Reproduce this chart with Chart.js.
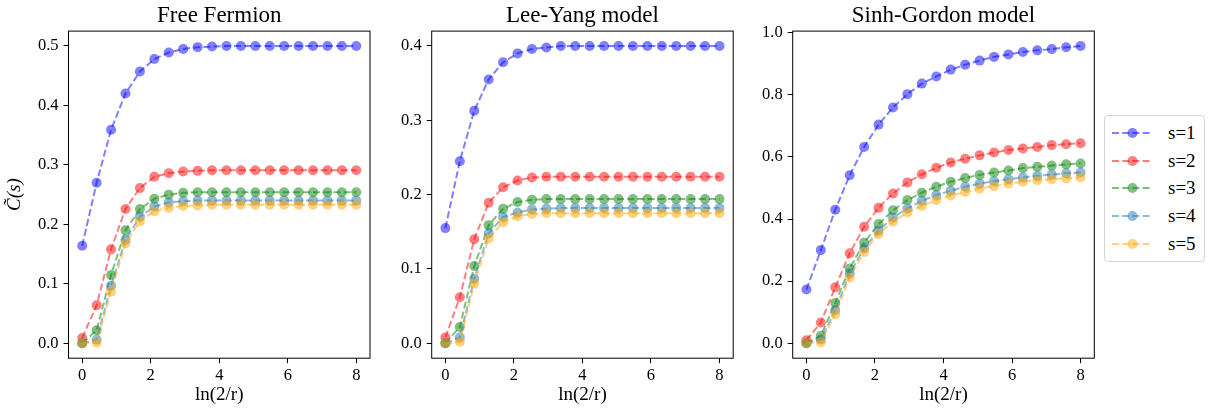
<!DOCTYPE html>
<html>
<head>
<meta charset="utf-8">
<script src="https://cdn.jsdelivr.net/npm/chart.js@4.4.1/dist/chart.umd.min.js"></script>
<style>
  body { margin: 0; background: #fff; width: 1215px; height: 412px; position: relative; overflow: hidden;
         font-family: 'Liberation Serif', 'DejaVu Serif', serif; }
  canvas { position: absolute; top: 0; }
  #legend { position: absolute; left: 1104px; top: 115px; width: 99px; height: 142px;
            border: 1px solid #d4d4d4; border-radius: 4px; padding-top: 3px; box-sizing: content-box; }
  .row { height: 27.8px; display: flex; align-items: center; }
  .row svg { margin-left: 7px; }
  .row span { margin-left: 16px; font-size: 19px; color: #000; }
</style>
</head>
<body>
<canvas id="c1" style="left:0px" width="380" height="412"></canvas>
<canvas id="c2" style="left:380px" width="363" height="412"></canvas>
<canvas id="c3" style="left:743px" width="361" height="412"></canvas>
<div id="legend"></div>
<script>
// x grid: ln(2/r) sample points
const xVals = [0, 0.421, 0.842, 1.263, 1.684, 2.105, 2.526, 2.947, 3.368, 3.789,
               4.211, 4.632, 5.053, 5.474, 5.895, 6.316, 6.737, 7.158, 7.579, 8.0];
const xTicks = [0, 2, 4, 6, 8];

const seriesLabels = ['s=1', 's=2', 's=3', 's=4', 's=5'];
const seriesColors = ['rgba(0,0,255,0.5)', 'rgba(255,0,0,0.5)', 'rgba(0,128,0,0.5)',
                      'rgba(31,119,180,0.5)', 'rgba(255,165,0,0.5)'];

const panelTitles = ['Free Fermion', 'Lee-Yang model', 'Sinh-Gordon model'];

// Free Fermion
const ffS1 = [0.164, 0.270, 0.359, 0.420, 0.457, 0.478, 0.489, 0.495, 0.498, 0.499,
              0.500, 0.500, 0.500, 0.500, 0.500, 0.500, 0.500, 0.500, 0.500, 0.500];
const ffS2 = [0.009, 0.064, 0.158, 0.226, 0.261, 0.280, 0.286, 0.289, 0.290, 0.291,
              0.291, 0.291, 0.291, 0.291, 0.291, 0.291, 0.291, 0.291, 0.291, 0.291];
const ffS3 = [0.000, 0.022, 0.115, 0.190, 0.226, 0.243, 0.250, 0.253, 0.254, 0.254,
              0.254, 0.254, 0.254, 0.254, 0.254, 0.254, 0.254, 0.254, 0.254, 0.254];
const ffS4 = [0.000, 0.006, 0.097, 0.174, 0.213, 0.230, 0.237, 0.239, 0.240, 0.240,
              0.240, 0.240, 0.240, 0.240, 0.240, 0.240, 0.240, 0.240, 0.240, 0.240];
const ffS5 = [0.000, 0.001, 0.087, 0.168, 0.205, 0.222, 0.228, 0.231, 0.232, 0.233,
              0.233, 0.233, 0.233, 0.233, 0.233, 0.233, 0.233, 0.233, 0.233, 0.233];
const ffTicks = [0, 0.1, 0.2, 0.3, 0.4, 0.5];

// Lee-Yang model
const lyS1 = [0.155, 0.245, 0.313, 0.355, 0.378, 0.390, 0.396, 0.398, 0.400, 0.400,
              0.400, 0.400, 0.400, 0.400, 0.400, 0.400, 0.400, 0.400, 0.400, 0.400];
const lyS2 = [0.008, 0.062, 0.140, 0.189, 0.210, 0.219, 0.223, 0.224, 0.224, 0.224,
              0.224, 0.224, 0.224, 0.224, 0.224, 0.224, 0.224, 0.224, 0.224, 0.224];
const lyS3 = [0.000, 0.022, 0.104, 0.159, 0.181, 0.190, 0.193, 0.194, 0.194, 0.194,
              0.194, 0.194, 0.194, 0.194, 0.194, 0.194, 0.194, 0.194, 0.194, 0.194];
const lyS4 = [0.000, 0.008, 0.087, 0.148, 0.170, 0.176, 0.180, 0.181, 0.182, 0.182,
              0.182, 0.182, 0.182, 0.182, 0.182, 0.182, 0.182, 0.182, 0.182, 0.182];
const lyS5 = [0.000, 0.002, 0.080, 0.141, 0.163, 0.171, 0.174, 0.175, 0.175, 0.175,
              0.175, 0.175, 0.175, 0.175, 0.175, 0.175, 0.175, 0.175, 0.175, 0.175];
const lyTicks = [0, 0.1, 0.2, 0.3, 0.4];

// Sinh-Gordon model
const sgS1 = [0.173, 0.300, 0.430, 0.541, 0.632, 0.704, 0.759, 0.802, 0.836, 0.859,
              0.881, 0.897, 0.910, 0.922, 0.930, 0.938, 0.943, 0.947, 0.953, 0.957];
const sgS2 = [0.010, 0.067, 0.180, 0.290, 0.375, 0.436, 0.482, 0.518, 0.544, 0.565,
              0.582, 0.594, 0.605, 0.614, 0.622, 0.627, 0.632, 0.638, 0.641, 0.644];
const sgS3 = [0.000, 0.024, 0.130, 0.241, 0.324, 0.384, 0.428, 0.461, 0.485, 0.504,
              0.520, 0.532, 0.542, 0.550, 0.556, 0.564, 0.568, 0.572, 0.576, 0.579];
const sgS4 = [0.000, 0.012, 0.107, 0.225, 0.306, 0.362, 0.405, 0.434, 0.459, 0.477,
              0.491, 0.504, 0.514, 0.522, 0.528, 0.534, 0.539, 0.543, 0.547, 0.550];
const sgS5 = [0.000, 0.003, 0.094, 0.212, 0.294, 0.352, 0.391, 0.421, 0.442, 0.461,
              0.476, 0.487, 0.498, 0.506, 0.514, 0.520, 0.525, 0.528, 0.531, 0.534];
const sgTicks = [0, 0.2, 0.4, 0.6, 0.8, 1.0];

const SERIF = "'Liberation Serif', 'DejaVu Serif', serif";

// box around the plot area (matplotlib spines)
const framePlugin = {
  id: 'frame',
  afterDatasetsDraw(chart) {
    const { ctx, chartArea: a } = chart;
    ctx.save();
    ctx.strokeStyle = '#000';
    ctx.lineWidth = 1;
    ctx.strokeRect(a.left, a.top, a.right - a.left, a.bottom - a.top);
    ctx.restore();
  }
};

function buildDatasets(seriesList) {
  return seriesList.map((vals, i) => ({
    label: seriesLabels[i],
    data: vals.map((v, j) => ({ x: xVals[j], y: v })),
    borderColor: seriesColors[i],
    backgroundColor: seriesColors[i],
    borderWidth: 2,
    borderDash: [7, 3.2],
    pointRadius: 5,
    pointBorderWidth: 0,
    pointHoverRadius: 5,
    tension: 0,
    fill: false,
    order: seriesList.length - i
  }));
}

function makePanel(id, title, seriesList, yMin, yMax, yTicks, yWidth, padRight, yTitle) {
  const ctx = document.getElementById(id).getContext('2d');
  return new Chart(ctx, {
    type: 'line',
    data: { datasets: buildDatasets(seriesList) },
    plugins: [framePlugin],
    options: {
      responsive: false,
      animation: false,
      layout: { padding: { left: 0, right: padRight, top: 0, bottom: 0 } },
      plugins: {
        legend: { display: false },
        tooltip: { enabled: false },
        title: {
          display: true, text: title, color: '#000', fullSize: false,
          font: { family: SERIF, size: 23, weight: 'normal' },
          padding: { top: 2, bottom: 1.5 }
        }
      },
      scales: {
        x: {
          type: 'linear', min: -0.4, max: 8.4,
          afterBuildTicks: s => { s.ticks = xTicks.map(v => ({ value: v })); },
          afterFit: s => { s.height = 53.8; },
          grid: { display: true, drawOnChartArea: false, drawTicks: true, tickLength: 5, color: '#000' },
          border: { display: false },
          ticks: { color: '#000', padding: 3, font: { family: SERIF, size: 16.5 }, callback: v => String(v) },
          title: { display: true, text: 'ln(2/r)', color: '#000',
                   font: { family: SERIF, size: 19 }, padding: { top: 0, bottom: 6 } }
        },
        y: {
          type: 'linear', min: yMin, max: yMax,
          afterBuildTicks: s => { s.ticks = yTicks.map(v => ({ value: v })); },
          afterFit: s => { s.width = yWidth; },
          grid: { display: true, drawOnChartArea: false, drawTicks: true, tickLength: 5, color: '#000' },
          border: { display: false },
          ticks: { color: '#000', padding: 5, font: { family: SERIF, size: 16.5 }, callback: v => v.toFixed(1) },
          title: { display: !!yTitle, text: yTitle || '', color: '#000',
                   font: { family: SERIF, size: 19, style: 'italic' }, padding: { top: 4, bottom: 0 } }
        }
      }
    }
  });
}

makePanel('c1', panelTitles[0], [ffS1, ffS2, ffS3, ffS4, ffS5], -0.025, 0.525, ffTicks, 68.5, 10, 'C\u0303(s)');
makePanel('c2', panelTitles[1], [lyS1, lyS2, lyS3, lyS4, lyS5], -0.02, 0.42, lyTicks, 51.7, 9.8, null);
makePanel('c3', panelTitles[2], [sgS1, sgS2, sgS3, sgS4, sgS5], -0.048, 1.005, sgTicks, 49.7, 9.7, null);

// legend: dashed line with marker, as in matplotlib
const legendEl = document.getElementById('legend');
seriesLabels.forEach((lab, i) => {
  const row = document.createElement('div');
  row.className = 'row';
  row.innerHTML =
    `<svg width="40" height="12" viewBox="0 0 40 12">
       <line x1="0" y1="6" x2="40" y2="6" stroke="${seriesColors[i]}" stroke-width="2" stroke-dasharray="7 3.2"/>
       <circle cx="20.5" cy="6" r="5" fill="${seriesColors[i]}"/>
     </svg><span>${lab}</span>`;
  legendEl.appendChild(row);
});
</script>
</body>
</html>
